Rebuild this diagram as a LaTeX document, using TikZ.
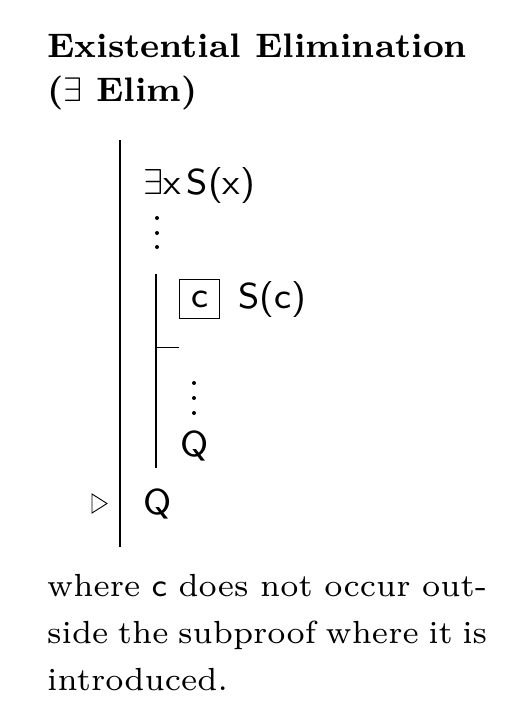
\RequirePackage{fix-cm}
\documentclass[tikz,border=0pt]{standalone}
\usepackage{fontspec}
\setmainfont{lmroman7-regular.otf}[BoldFont=lmroman8-bold.otf]
\setsansfont{lmsans8-regular.otf}
\begin{document}
\begin{tikzpicture}[x=1pt,y=-1pt,
  txt/.style={anchor=base west,inner sep=0pt,font=\fontsize{32}{47}\selectfont},
  ttl/.style={txt,font=\fontsize{34}{43}\selectfont\bfseries},
  sf/.style={txt,font=\fontsize{36}{47}\selectfont\sffamily},
  bar/.style={line width=1.4pt},
  dot/.style={fill=black,circle,inner sep=0pt,minimum size=4pt}]
\useasboundingbox (0,0) rectangle (526,716);
% title
\node[ttl] (t1) at (47,57) {Existential Elimination};
\node[ttl] (t2) at (47,101) {($\exists$ Elim)};
% proof bars
\coordinate (ob1) at (120,140);
\coordinate (ob2) at (120,547);
\draw[bar] (ob1) -- (ob2);
\coordinate (ib1) at (156,274);
\coordinate (ib2) at (156,468);
\draw[bar] (ib1) -- (ib2);
\coordinate (hl1) at (156,347);
\coordinate (hl2) at (179,347);
\draw[line width=1pt] (hl1) -- (hl2);
% lines
\node[sf] (prem) at (143,194) {$\exists$x\,S(x)};
\foreach \y [count=\i] in {218,233,247} \node[dot] (da\i) at (157,\y) {};
\node[draw,line width=0.9pt,minimum width=40pt,minimum height=39pt,inner sep=0pt,font=\fontsize{36}{47}\selectfont\sffamily] (box) at (199.5,299) {c};
\node[sf] (sc) at (238,308) {S(c)};
\foreach \y [count=\i] in {383,398,413} \node[dot] (db\i) at (194,\y) {};
\node[sf] (q1) at (180,456) {Q};
\node[sf] (q2) at (143,514) {Q};
\draw[line width=0.9pt,line join=miter] (92,494) -- (107,503.5) -- (92,513) -- cycle;
% bottom text
\node[txt] (b1) at (47,596) {\hbox to 440pt{where \textsf{c} does not occur out-}};
\node[txt] (b2) at (47,643) {\hbox to 440pt{side the subproof where it is}};
\node[txt] (b3) at (47,690) {introduced.};
\end{tikzpicture}
\end{document}
